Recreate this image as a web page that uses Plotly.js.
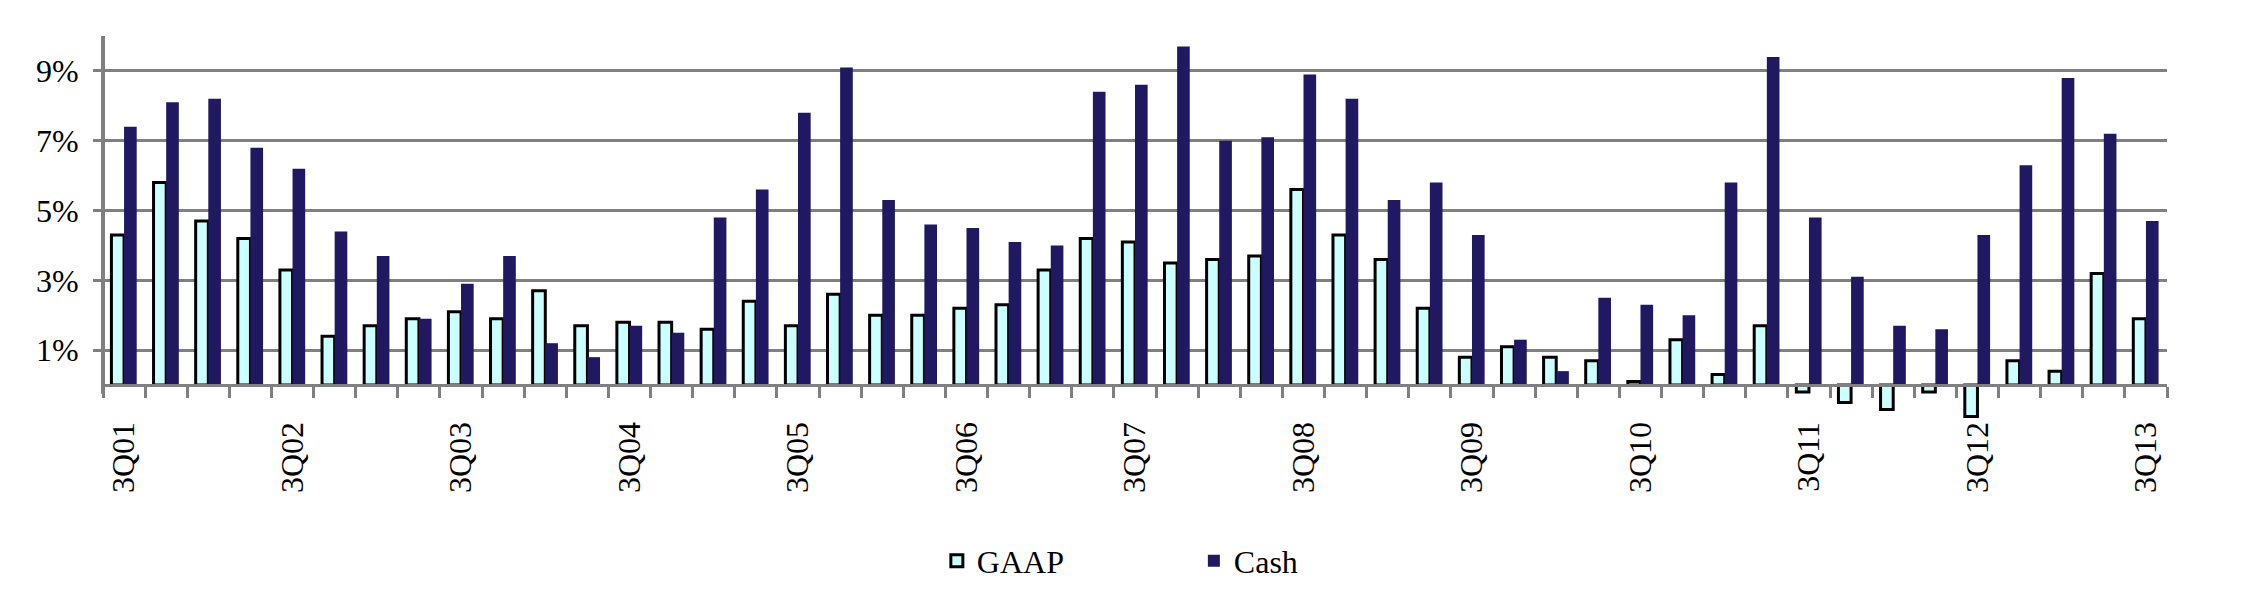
<!DOCTYPE html>
<html>
<head>
<meta charset="utf-8">
<script src="https://cdn.plot.ly/plotly-3.0.1.min.js"></script>
<style>html,body{margin:0;padding:0;background:#fff;}#chart{width:2250px;height:600px;}</style>
</head>
<body>
<div id="chart"></div>
<script>
const quarters = ["3Q01","4Q01","1Q02","2Q02","3Q02","4Q02","1Q03","2Q03","3Q03","4Q03",
  "1Q04","2Q04","3Q04","4Q04","1Q05","2Q05","3Q05","4Q05","1Q06","2Q06",
  "3Q06","4Q06","1Q07","2Q07","3Q07","4Q07","1Q08","2Q08","3Q08","4Q08",
  "1Q09","2Q09","3Q09","4Q09","1Q10","2Q10","3Q10","4Q10","1Q11","2Q11",
  "3Q11","4Q11","1Q12","2Q12","3Q12","4Q12","1Q13","2Q13","3Q13"];
const gaap = [4.3,5.8,4.7,4.2,3.3,1.4,1.7,1.9,2.1,1.9,
  2.7,1.7,1.8,1.8,1.6,2.4,1.7,2.6,2.0,2.0,
  2.2,2.3,3.3,4.2,4.1,3.5,3.6,3.7,5.6,4.3,
  3.6,2.2,0.8,1.1,0.8,0.7,0.1,1.3,0.3,1.7,
  -0.2,-0.5,-0.7,-0.2,-0.9,0.7,0.4,3.2,1.9];
const cash = [7.4,8.1,8.2,6.8,6.2,4.4,3.7,1.9,2.9,3.7,
  1.2,0.8,1.7,1.5,4.8,5.6,7.8,9.1,5.3,4.6,
  4.5,4.1,4.0,8.4,8.6,9.7,7.0,7.1,8.9,8.2,
  5.3,5.8,4.3,1.3,0.4,2.5,2.3,2.0,5.8,9.4,
  4.8,3.1,1.7,1.6,4.3,6.3,8.8,7.2,4.7];
const shownLabels = ["3Q01","3Q02","3Q03","3Q04","3Q05","3Q06","3Q07","3Q08","3Q09","3Q10","3Q11","3Q12","3Q13"];
const yTickVals = [1,3,5,7,9];
const yTickText = ["1%","3%","5%","7%","9%"];

const FONT = "Liberation Serif";
const GRAY = "#808080";

const traces = [
  {type:"bar", name:"GAAP", x:quarters, y:gaap,
   marker:{color:"#CCFFFF", line:{color:"#000000", width:3}}},
  {type:"bar", name:"Cash", x:quarters, y:cash,
   marker:{color:"#201860", line:{width:0}}}
];

const layout = {
  width:2250, height:600,
  margin:{l:103, r:83, t:36, b:180},
  paper_bgcolor:"#fff", plot_bgcolor:"#fff",
  barmode:"group", bargap:0.4, bargroupgap:0,
  font:{family:FONT, size:32, color:"#000"},
  showlegend:true,
  legend:{orientation:"h", x:0.404, xanchor:"left", y:-0.367, yanchor:"middle",
          font:{family:FONT, size:32, color:"#000"}, entrywidth:212, entrywidthmode:"pixels",
          traceorder:"normal"},
  xaxis:{type:"category", anchor:"free", position:1/11,
         showline:true, linecolor:GRAY, linewidth:3,
         ticks:"outside", tickson:"boundaries", ticklen:11, tickwidth:3, tickcolor:GRAY,
         tickmode:"array", tickvals:quarters,
         ticktext:quarters.map(q => shownLabels.includes(q) ? q : ""),
         tickangle:-90, ticklabelstandoff:22,
         tickfont:{family:FONT, size:32, color:"#000"},
         showgrid:false, zeroline:false, fixedrange:true},
  yaxis:{range:[-1,10], showline:false, zeroline:false,
         showgrid:true, gridcolor:GRAY, gridwidth:3,
         ticks:"outside", ticklen:9, tickwidth:3, tickcolor:GRAY,
         tickmode:"array", tickvals:yTickVals, ticktext:yTickText,
         ticklabelstandoff:8,
         tickfont:{family:FONT, size:32, color:"#000"}, fixedrange:true},
  shapes:[{type:"line", xref:"paper", yref:"y", x0:0, x1:0, y0:-0.25, y1:10,
           line:{color:GRAY, width:4}, layer:"above"}]
};

Plotly.newPlot("chart", traces, layout, {displayModeBar:false, staticPlot:true});
</script>
</body>
</html>
